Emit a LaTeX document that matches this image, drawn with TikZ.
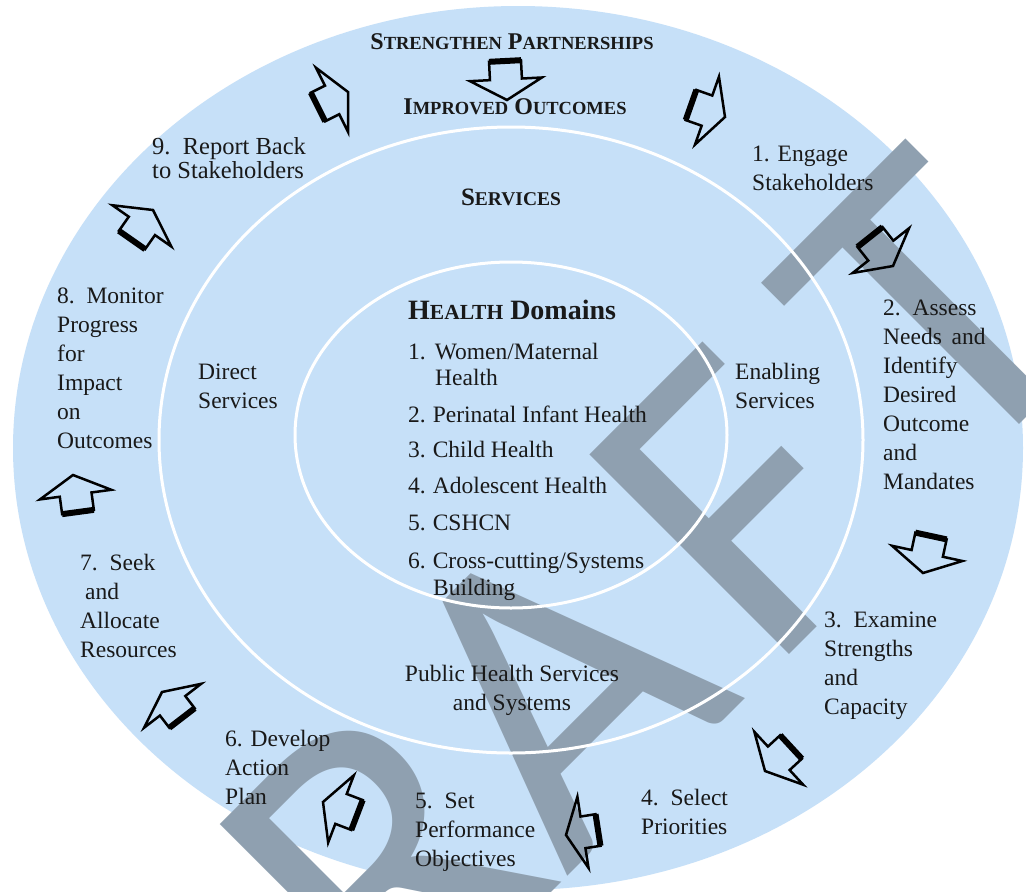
\documentclass[tikz,border=0pt]{standalone}
\usepackage{fontspec}
\setmainfont{Liberation Serif}
\newfontfamily\wmfont{Carlito}
\usetikzlibrary{calc}

\definecolor{ringblue}{RGB}{198,224,248}
\definecolor{wmgray}{RGB}{143,160,176}
\definecolor{inktext}{RGB}{25,25,25}

% fake small caps
\newcommand\smc[2]{{\fontsize{#1}{#1}\selectfont #2}}

% block arrow from tail #1 to tip #2
\newcommand\blockarrow[2]{%
  \coordinate (bt) at #1;
  \coordinate (bp) at #2;
  \coordinate (bh) at ($(bt)!0.47!(bp)$);
  \draw[arrowline] ($(bt)!16pt!90:(bp)$) -- ($(bh)!16pt!90:(bp)$)
    -- ($(bh)!36pt!90:(bp)$) -- (bp) -- ($(bh)!36pt!-90:(bp)$)
    -- ($(bh)!16pt!-90:(bp)$) -- ($(bt)!16pt!-90:(bp)$) -- cycle;
  \draw[line width=6pt] ($(bt)!16pt!90:(bp)$) -- ($(bt)!16pt!-90:(bp)$);
}

\begin{document}
\begin{tikzpicture}[x=1pt,y=-1pt,
    ring/.style={draw=white,line width=3pt},
    arrowline/.style={draw=black,line width=2.5pt,line join=miter},
    steptext/.style={anchor=base west,inner sep=0pt,align=left,text=inktext,
      font=\fontsize{23.5}{29}\selectfont},
    headtext/.style={anchor=base,inner sep=0pt,text=inktext,font=\bfseries},
    wmark/.style={rotate=45,anchor=base west,inner sep=0pt,text=wmgray,
      font=\wmfont\fontsize{440}{440}\selectfont}]

  \useasboundingbox (0,0) rectangle (1026,892);
  \fill[white] (0,0) rectangle (1026,892);

  % Rings
  \fill[ringblue] (518,448) ellipse [x radius=505pt, y radius=442pt];
  \node[wmark] (draft) at (206,1238) {DRA\kern32pt F\kern65pt T};
  \draw[ring] (511,440) ellipse [x radius=352pt, y radius=313pt];
  \draw[ring] (511,435) ellipse [x radius=216pt, y radius=173pt];

  % Titles
  \node[headtext,font=\bfseries\fontsize{24}{24}\selectfont] (partner) at (512,49)
    {S\smc{18.5}{TRENGTHEN} P\smc{18.5}{ARTNERSHIPS}};
  \node[headtext,font=\bfseries\fontsize{24}{24}\selectfont] (outcome) at (515,114)
    {I\smc{18.5}{MPROVED} O\smc{18.5}{UTCOMES}};
  \node[headtext,font=\bfseries\fontsize{25}{25}\selectfont] (services) at (511,205)
    {S\smc{19.5}{ERVICES}};
  \node[headtext,anchor=base west,font=\bfseries\fontsize{28}{28}\selectfont] (domains) at (408,319)
    {H\smc{21.5}{EALTH} Domains};

  % Health domains
  \node[steptext] (d1) at (408,359) {1.\hspace{9pt}Women/Maternal};
  \node[steptext] (d1b) at (435,385) {Health};
  \node[steptext] (d2) at (408,422) {2.\hspace{7pt}Perinatal Infant Health};
  \node[steptext] (d3) at (408,457) {3.\hspace{7pt}Child Health};
  \node[steptext] (d4) at (408,493) {4.\hspace{7pt}Adolescent Health};
  \node[steptext] (d5) at (408,530) {5.\hspace{7pt}CSHCN};
  \node[steptext] (d6) at (408,568) {6.\hspace{7pt}Cross-cutting/Systems};
  \node[steptext] (d6b) at (433,595) {Building};

  % Services ring (base = last line)
  \node[steptext] (direct) at (198,408) {Direct\\Services};
  \node[steptext] (enabling) at (735,408) {Enabling\\Services};
  \node[steptext,anchor=base,align=center] (public) at (512,710)
    {Public Health Services\\and Systems};

  % Cycle steps (base = last line)
  \node[steptext] (s1) at (752,190) {1. Engage\\Stakeholders};
  \node[steptext] (s2) at (883,489) {2.\, Assess\\Needs\, and\\Identify\\Desired\\Outcome\\and\\Mandates};
  \node[steptext] (s3) at (824,714) {3.\, Examine\\Strengths\\and\\Capacity};
  \node[steptext] (s4) at (641,834) {4.\, Select\\Priorities};
  \node[steptext] (s5) at (415,866) {5.\, Set\\Performance\\Objectives};
  \node[steptext] (s6) at (225,804) {6. Develop\\Action\\Plan};
  \node[steptext] (s7) at (80,657) {7.\, Seek\\\hspace{5pt}and\\Allocate\\Resources};
  \node[steptext] (s8) at (57,448) {8.\, Monitor\\Progress\\for\\Impact\\on\\Outcomes};
  \node[steptext,font=\fontsize{24.5}{24}\selectfont] (s9) at (152,178) {9.\, Report Back\\to Stakeholders};

  % Block arrows
  \blockarrow{(505,61)}{(507,100)}
  \blockarrow{(318,107)}{(348,92)}
  \blockarrow{(691,105)}{(725,117)}
  \blockarrow{(870,237)}{(893,266)}
  \blockarrow{(931,536)}{(923,573)}
  \blockarrow{(791,747)}{(765,771)}
  \blockarrow{(598,830)}{(566,835)}
  \blockarrow{(357,815)}{(323,802)}
  \blockarrow{(182,718)}{(162,692)}
  \blockarrow{(78,512)}{(73,475)}
  \blockarrow{(132,240)}{(153,210)}

\end{tikzpicture}
\end{document}
